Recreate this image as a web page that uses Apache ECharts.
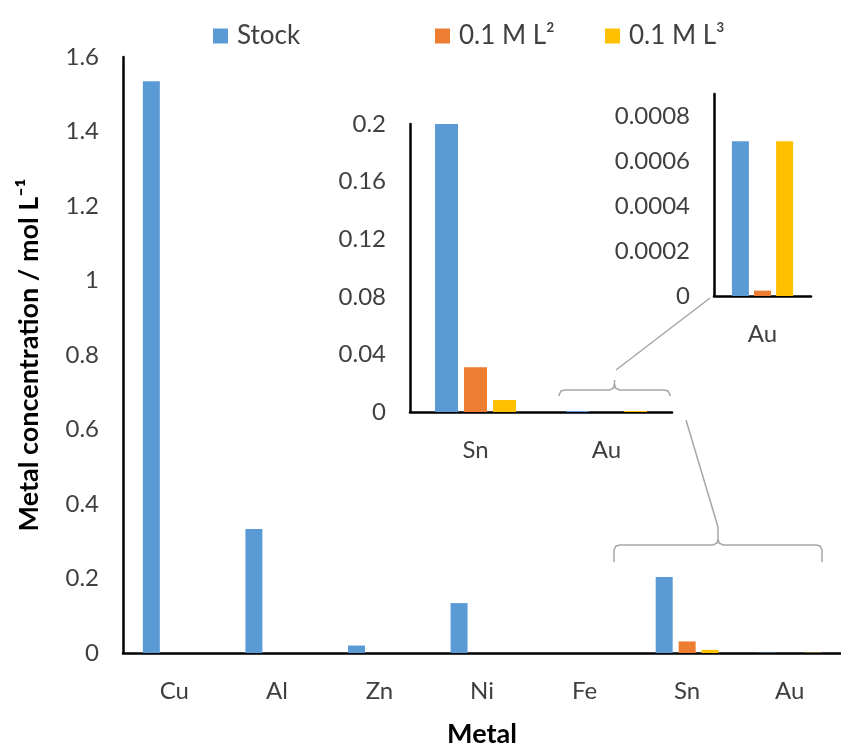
<!DOCTYPE html>
<html>
<head>
<meta charset="utf-8">
<script src="https://cdn.jsdelivr.net/npm/echarts@6/dist/echarts.min.js"></script>
<style>
  html, body { margin: 0; padding: 0; background: #fff; }
  #chart { width: 841px; height: 755px; }
</style>
</head>
<body>
<div id="chart"></div>
<script>
// data
var categories = ['Cu', 'Al', 'Zn', 'Ni', 'Fe', 'Sn', 'Au'];
var stock = [1.535, 0.333, 0.02, 0.134, 0, 0.204, 0.00069];
var ml2 = [0, 0, 0, 0, 0, 0.031, 0.000024];
var ml3 = [0, 0, 0, 0, 0, 0.0083, 0.00069];
var seriesNames = ['Stock', '0.1 M L²', '0.1 M L³'];
var colors = ['#5B9BD5', '#ED7D31', '#FFC000'];

var FONT = 'Lato';
var TXT = '#404040';
var GRAY = '#a6a6a6';

// x axis / y axis common look
function xAx(grid, data, margin) {
  return {
    type: 'category', gridIndex: grid, data: data,
    axisLine: { lineStyle: { color: '#000', width: 2.5 } },
    axisTick: { show: false },
    axisLabel: { color: TXT, fontFamily: FONT, fontSize: 24, margin: margin }
  };
}
function yAx(grid, max, interval, showMax) {
  return {
    type: 'value', gridIndex: grid, min: 0, max: max, interval: interval,
    axisLine: { show: true, lineStyle: { color: '#000', width: 2.5 } },
    axisTick: { show: false },
    splitLine: { show: false },
    axisLabel: { color: TXT, fontFamily: FONT, fontSize: 24, margin: 24, showMaxLabel: showMax }
  };
}

var arrays = [stock, ml2, ml3];
var series = [];
// grid 0 = whole chart, grid 1 = Sn/Au zoom, grid 2 = Au zoom
var inserts = [
  { from: 0, width: 17, gap: '35%' },
  { from: 5, width: 23, gap: '26%' },
  { from: 6, width: 17, gap: '30%' }
];
inserts.forEach(function (ins, g) {
  arrays.forEach(function (arr, i) {
    series.push({
      type: 'bar',
      name: seriesNames[i],
      xAxisIndex: g,
      yAxisIndex: g,
      data: arr.slice(ins.from),
      barWidth: ins.width,
      barGap: ins.gap,
      itemStyle: { color: colors[i] },
      emphasis: { disabled: true }
    });
  });
});

var xMain = xAx(0, categories, 26);
xMain.name = 'Metal';
xMain.nameLocation = 'middle';
xMain.nameGap = 68;
xMain.nameTextStyle = { color: '#000', fontFamily: FONT, fontSize: 27, fontWeight: 'bold' };

var yMain = yAx(0, 1.6, 0.2, true);
yMain.name = 'Metal concentration / mol L⁻¹';
yMain.nameLocation = 'middle';
yMain.nameGap = 80;
yMain.nameTextStyle = { color: '#000', fontFamily: FONT, fontSize: 27, fontWeight: 'bold' };

function legend(name, left) {
  return {
    data: [name], left: left, top: 18,
    itemWidth: 15, itemHeight: 15, icon: 'rect',
    selectedMode: false,
    textStyle: { color: TXT, fontFamily: FONT, fontSize: 26, padding: [0, 0, 0, 4] }
  };
}

// brace + leader line (drawn decorations)
function brace(x1, x2, yBase, yTop, tipY) {
  var xm = (x1 + x2) / 2;
  return {
    type: 'polyline', silent: true,
    shape: { points: [[x1, yBase], [x1, yTop + 5], [x1 + 2, yTop + 1], [x1 + 6, yTop],
      [xm - 5, yTop], [xm - 1, yTop - 2], [xm, yTop - 6], [xm, tipY],
      [xm, yTop - 6], [xm + 1, yTop - 2], [xm + 5, yTop],
      [x2 - 6, yTop], [x2 - 2, yTop + 1], [x2, yTop + 5], [x2, yBase]] },
    style: { stroke: GRAY, lineWidth: 1.5, fill: null }
  };
}

var chart = echarts.init(document.getElementById('chart'));
chart.setOption({
  animation: false,
  backgroundColor: '#fff',
  textStyle: { fontFamily: FONT },
  legend: [legend('Stock', 208), legend('0.1 M L²', 430), legend('0.1 M L³', 600)],
  grid: [
    { left: 123, top: 57, right: -10, bottom: 102 },
    { left: 410, top: 124, width: 262, height: 288 },
    { left: 714, top: 94, width: 97, height: 202 }
  ],
  xAxis: [xMain, xAx(1, categories.slice(5), 26), xAx(2, categories.slice(6), 26)],
  yAxis: [yMain, yAx(1, 0.2, 0.04, true), yAx(2, 0.0009, 0.0002, false)],
  series: series,
  graphic: [
    brace(614, 822, 562, 545, 527),
    { type: 'line', silent: true, shape: { x1: 718, y1: 527, x2: 686, y2: 420 },
      style: { stroke: GRAY, lineWidth: 1.5 } },
    brace(559, 670, 396, 390, 380),
    { type: 'line', silent: true, shape: { x1: 616, y1: 370, x2: 710, y2: 298 },
      style: { stroke: GRAY, lineWidth: 1.5 } }
  ]
});
</script>
</body>
</html>
